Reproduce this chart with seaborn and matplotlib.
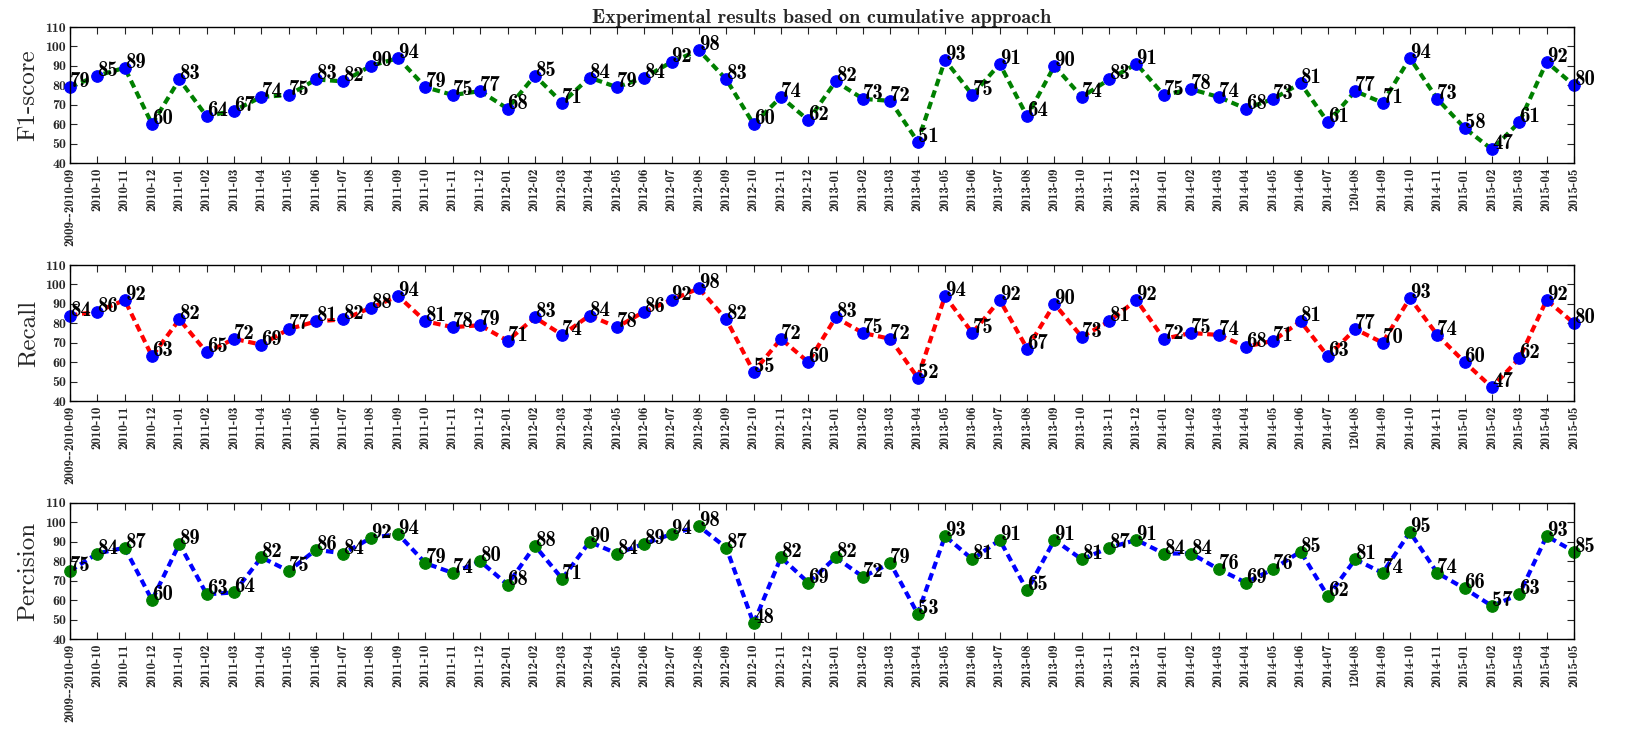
import matplotlib
matplotlib.use("Agg")
import matplotlib.pyplot as plt
import seaborn as sns
import numpy as np
import pandas as pd

months = ["2009--2010-09", "2010-10", "2010-11", "2010-12",
          "2011-01", "2011-02", "2011-03", "2011-04", "2011-05", "2011-06",
          "2011-07", "2011-08", "2011-09", "2011-10", "2011-11", "2011-12",
          "2012-01", "2012-02", "2012-03", "2012-04", "2012-05", "2012-06",
          "2012-07", "2012-08", "2012-09", "2012-10", "2012-11", "2012-12",
          "2013-01", "2013-02", "2013-03", "2013-04", "2013-05", "2013-06",
          "2013-07", "2013-08", "2013-09", "2013-10", "2013-11", "2013-12",
          "2014-01", "2014-02", "2014-03", "2014-04", "2014-05", "2014-06",
          "2014-07", "1204-08", "2014-09", "2014-10", "2014-11",
          "2015-01", "2015-02", "2015-03", "2015-04", "2015-05"]

f1_score = [79, 85, 89, 60, 83, 64, 67, 74, 75, 83, 82, 90, 94, 79, 75, 77,
            68, 85, 71, 84, 79, 84, 92, 98, 83, 60, 74, 62, 82, 73, 72, 51,
            93, 75, 91, 64, 90, 74, 83, 91, 75, 78, 74, 68, 73, 81, 61, 77,
            71, 94, 73, 58, 47, 61, 92, 80]

recall = [84, 86, 92, 63, 82, 65, 72, 69, 77, 81, 82, 88, 94, 81, 78, 79,
          71, 83, 74, 84, 78, 86, 92, 98, 82, 55, 72, 60, 83, 75, 72, 52,
          94, 75, 92, 67, 90, 73, 81, 92, 72, 75, 74, 68, 71, 81, 63, 77,
          70, 93, 74, 60, 47, 62, 92, 80]

precision = [75, 84, 87, 60, 89, 63, 64, 82, 75, 86, 84, 92, 94, 79, 74, 80,
             68, 88, 71, 90, 84, 89, 94, 98, 87, 48, 82, 69, 82, 72, 79, 53,
             93, 81, 91, 65, 91, 81, 87, 91, 84, 84, 76, 69, 76, 85, 62, 81,
             74, 95, 74, 66, 57, 63, 93, 85]

y_ticks = [40, 50, 60, 70, 80, 90, 100, 110]
panel_names = ["F1-score", "Recall", "Percision"]
title = "Experimental results based on cumulative approach"

sns.set_style("ticks")
plt.rcParams["axes.unicode_minus"] = False
plt.rcParams["axes.formatter.use_mathtext"] = True

fig = plt.figure(figsize=(16.41, 7.31), dpi=100)

L, R = 70 / 1641, 1574 / 1641
panels = [(27, 163), (265, 401), (503, 639)]
series = [f1_score, recall, precision]
line_colors = ["green", "red", "blue"]
marker_colors = ["blue", "blue", "green"]

idx = np.arange(len(months))
bold = "cmb10"

for k, (name, vals) in enumerate(zip(panel_names, series)):
    top, bot = panels[k]
    ax = fig.add_axes([L, 1 - bot / 731, R - L, (bot - top) / 731])
    df = pd.DataFrame({"x": idx, "y": vals})
    sns.lineplot(data=df, x="x", y="y", ax=ax, color=line_colors[k],
                 linestyle=(0, (1.8, 1.1)), linewidth=3.0, marker="o",
                 markersize=8.3, markerfacecolor=marker_colors[k],
                 markeredgecolor=marker_colors[k], markeredgewidth=0.8,
                 clip_on=False)
    for xi, v in zip(idx, vals):
        ax.text(xi, v, str(v), fontsize=15, family=bold, color="black",
                zorder=5)
    ax.set_xlim(0, len(months) - 1)
    ax.set_ylim(40, 110)
    ax.set_xticks(idx)
    ax.set_xticklabels(months, rotation=90, family=bold, fontsize=9.5)
    ax.set_yticks(y_ticks)
    ax.set_yticklabels([str(t) for t in y_ticks], family=bold, fontsize=10)
    ax.set_xlabel("")
    ax.set_ylabel(name, family="cmr10", fontsize=18, labelpad=4)
    ax.tick_params(direction="in", top=True, right=True, length=5,
                   width=0.8, pad=3)
    for sp in ax.spines.values():
        sp.set_visible(True)
        sp.set_linewidth(1.0)
        sp.set_color("black")
    if k == 0:
        ax.set_title(title, family=bold, fontsize=14.5, pad=3)

fig.savefig("out.png", dpi=100, facecolor="white")
